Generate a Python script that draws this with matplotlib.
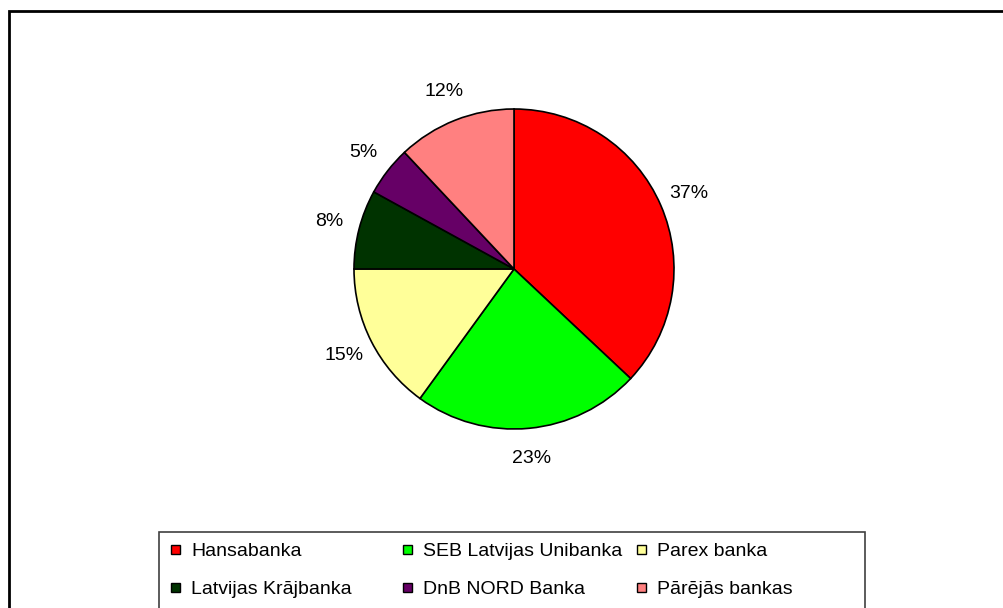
import matplotlib.pyplot as plt
from matplotlib.patches import Rectangle

plt.rcParams['font.family'] = ['Liberation Sans', 'DejaVu Sans']

banks = ['Hansabanka', 'SEB Latvijas Unibanka', 'Parex banka',
         'Latvijas Krājbanka', 'DnB NORD Banka', 'Pārējās bankas']
shares = [37, 23, 15, 8, 5, 12]
colors = ['#FF0000', '#00FF00', '#FFFF99', '#003300', '#660066', '#FF8080']

W, H = 1004, 608
fig = plt.figure(figsize=(W / 100, H / 100), dpi=100)

# outer chart frame (runs off the right and bottom edges)
fig.patches.append(Rectangle((9 / W, -0.1), 1.2, 1 - 11 / H + 0.1,
                             transform=fig.transFigure, fill=False,
                             edgecolor='black', linewidth=2))

# pie: centre (514, 269) px, radius 160 px
cx, cy, r = 514, 269, 160
ax = fig.add_axes([(cx - r) / W, (H - cy - r) / H, 2 * r / W, 2 * r / H])
ax.pie(shares, colors=colors, startangle=90, counterclock=False,
       autopct='%1.0f%%', pctdistance=1.19,
       wedgeprops=dict(edgecolor='black', linewidth=1.2),
       textprops=dict(fontsize=14, color='black'))
ax.set_xlim(-1, 1)
ax.set_ylim(-1, 1)
ax.set_aspect('equal')
ax.axis('off')

# legend box, drawn by hand to get Excel's equal column widths
fig.patches.append(Rectangle((159 / W, -0.1), (865 - 159) / W, (H - 532) / H + 0.1,
                             transform=fig.transFigure, fill=False,
                             edgecolor='#404040', linewidth=1.2))
col_x = [171, 403, 637]
row_y = [549, 587]
for i, (name, c) in enumerate(zip(banks, colors)):
    x = col_x[i % 3]
    y = row_y[i // 3]
    fig.patches.append(Rectangle((x / W, (H - y - 4.5) / H), 9 / W, 9 / H,
                                 transform=fig.transFigure, facecolor=c,
                                 edgecolor='black', linewidth=1))
    fig.text((x + 20) / W, (H - y) / H, name, fontsize=14,
             ha='left', va='center_baseline')

fig.savefig('out.png', dpi=100, facecolor='white')
